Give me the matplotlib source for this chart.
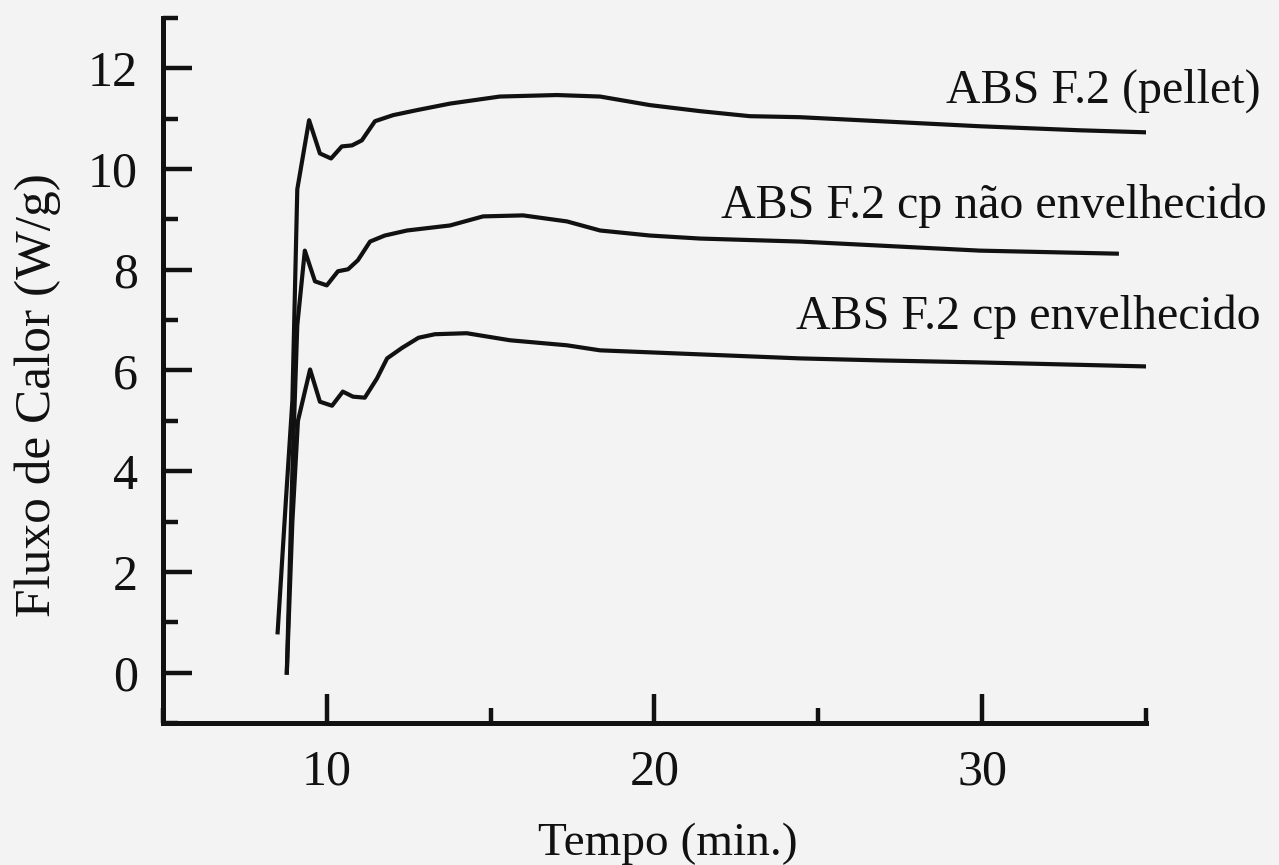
#!/usr/bin/env python3
"""
Heat flow curves (DSC isotherm) for ABS F.2 samples.
"""
import matplotlib
matplotlib.use("Agg")
import matplotlib.pyplot as plt
from matplotlib.ticker import MultipleLocator

# ABS F.2 (pellet)
pellet_t = [8.5, 8.75, 8.95, 9.1, 9.46, 9.79, 10.13, 10.46, 10.77, 11.07, 11.47,
            12.02, 12.75, 13.76, 15.28, 17.02, 18.34, 19.86, 21.39, 22.91, 24.44,
            26.88, 29.93, 32.98, 34.97]
pellet_q = [0.8, 3.4, 5.4, 9.6, 10.97, 10.31, 10.21, 10.45, 10.47, 10.57, 10.95,
            11.07, 11.17, 11.3, 11.44, 11.47, 11.44, 11.27, 11.15, 11.05, 11.03,
            10.95, 10.85, 10.77, 10.73]

# ABS F.2 cp nao envelhecido
nao_env_t = [8.78, 8.95, 9.1, 9.33, 9.64, 10.0, 10.34, 10.65, 10.95, 11.32, 11.77,
             12.45, 13.76, 14.77, 15.99, 17.33, 18.34, 19.86, 21.39, 24.44, 26.88,
             29.93, 34.11]
nao_env_q = [0.0, 4.0, 6.9, 8.38, 7.77, 7.69, 7.97, 8.01, 8.19, 8.56, 8.68,
             8.78, 8.88, 9.06, 9.08, 8.96, 8.78, 8.68, 8.62, 8.56, 8.48,
             8.38, 8.32]

# ABS F.2 cp envelhecido
env_t = [8.78, 8.95, 9.12, 9.49, 9.79, 10.16, 10.49, 10.8, 11.16, 11.53, 11.84,
         12.3, 12.8, 13.3, 14.27, 15.59, 17.33, 18.34, 21.39, 24.44, 26.88,
         29.93, 35.03]
env_q = [0.0, 3.0, 5.0, 6.02, 5.38, 5.30, 5.58, 5.48, 5.46, 5.84, 6.24,
         6.45, 6.65, 6.72, 6.74, 6.60, 6.50, 6.40, 6.32, 6.24, 6.2,
         6.16, 6.08]

labels = ["ABS F.2 (pellet)", "ABS F.2 cp não envelhecido", "ABS F.2 cp envelhecido"]
label_pos = [(38.5, 11.31), (38.7, 9.02), (38.5, 6.83)]


def main():
    plt.rcParams["font.family"] = ["Liberation Serif", "DejaVu Serif"]
    ink = "#111111"
    bg = "#f3f3f3"

    fig = plt.figure(figsize=(12.79, 8.65), dpi=100, facecolor=bg)
    ax = fig.add_axes([0.1274, 0.1642, 0.7686, 0.8150], facecolor=bg)

    for t, q in [(pellet_t, pellet_q), (nao_env_t, nao_env_q), (env_t, env_q)]:
        ax.plot(t, q, color=ink, lw=3.0, solid_joinstyle="round")

    for text, (x, y) in zip(labels, label_pos):
        ax.text(x, y, text, ha="right", va="baseline", fontsize=34.5,
                color=ink, clip_on=False)

    ax.set_xlim(5, 35)
    ax.set_ylim(-1, 13)
    ax.xaxis.set_major_locator(MultipleLocator(10))
    ax.xaxis.set_minor_locator(MultipleLocator(5))
    ax.yaxis.set_major_locator(MultipleLocator(2))
    ax.yaxis.set_minor_locator(MultipleLocator(1))
    ax.set_yticks([0, 2, 4, 6, 8, 10, 12])
    ax.set_xticks([10, 20, 30])

    for side in ["top", "right"]:
        ax.spines[side].set_visible(False)
    for side in ["left", "bottom"]:
        ax.spines[side].set_linewidth(3.6)
        ax.spines[side].set_color(ink)

    ax.tick_params(which="both", direction="in", color=ink, width=3.2,
                   labelsize=36, labelcolor=ink)
    ax.tick_params(which="major", length=21)
    ax.tick_params(which="minor", length=11)
    ax.tick_params(axis="y", which="major", pad=18)
    ax.tick_params(axis="x", which="major", pad=19)

    ax.set_xlabel("Tempo (min.)", fontsize=34, color=ink, va="baseline")
    ax.xaxis.set_label_coords(0.514, -0.187)
    ax.set_ylabel("Fluxo de Calor (W/g)", fontsize=37, color=ink)
    ax.yaxis.set_label_coords(-0.104, 0.465)

    fig.savefig("out.png", dpi=100, facecolor=bg)


if __name__ == "__main__":
    main()
